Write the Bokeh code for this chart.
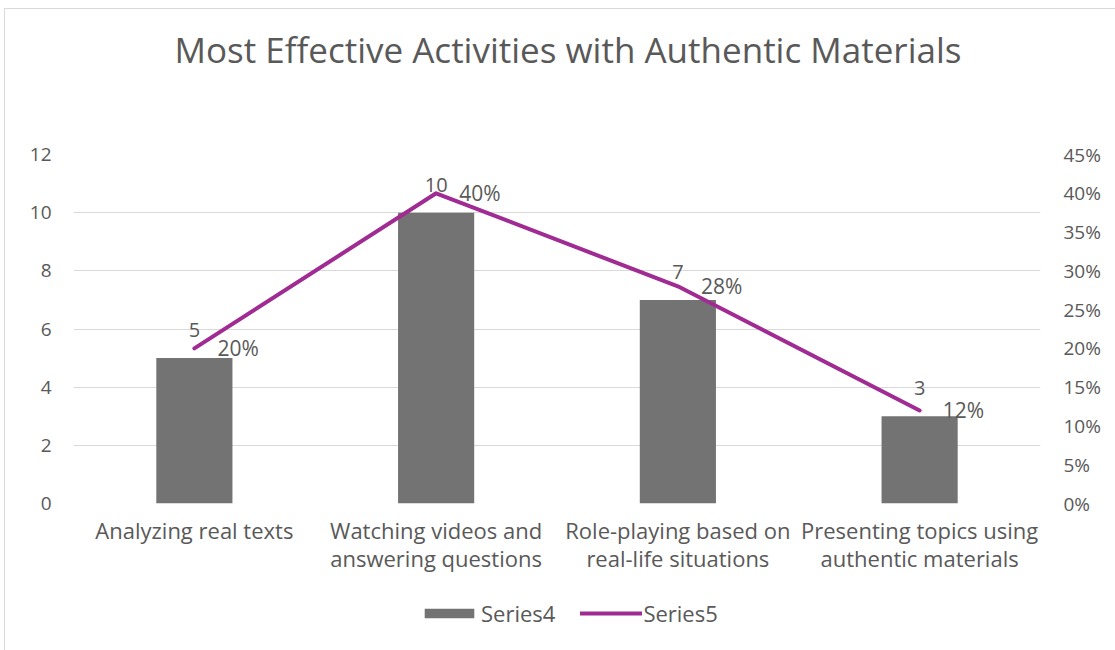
from bokeh.plotting import figure
from bokeh.models import (Range1d, LinearAxis, FixedTicker, NumeralTickFormatter,
                          ColumnDataSource, Legend, LegendItem, FactorRange, Title)
from bokeh.layouts import column
from bokeh.core.properties import value
from bokeh.embed import file_html
from bokeh.resources import INLINE

categories = ["Analyzing real texts",
              "Watching videos and\nanswering questions",
              "Role-playing based on\nreal-life situations",
              "Presenting topics using\nauthentic materials"]
series4 = [5, 10, 7, 3]
series5 = [0.20, 0.40, 0.28, 0.12]
left_ticks = [0, 2, 4, 6, 8, 10, 12]
right_ticks = [0, 0.05, 0.10, 0.15, 0.20, 0.25, 0.30, 0.35, 0.40, 0.45]
series_names = ["Series4", "Series5"]

FONT = "Open Sans"
TXT = "#595959"
BAR = "#737373"
LINE = "#A02B93"

src = ColumnDataSource(dict(
    cat=categories, s4=series4, s5=series5,
    s4lab=[str(v) for v in series4],
    s5lab=[f"{round(v*100)}%" for v in series5],
))

p = figure(width=1111, height=145 + 349 + 90, x_range=FactorRange(*categories),
           y_range=Range1d(0, 12), output_backend="svg", toolbar_location=None,
           min_border_left=68, min_border_right=76, min_border_top=145,
           min_border_bottom=90)
p.outline_line_color = None
p.background_fill_color = "white"
p.border_fill_color = "white"

p.extra_y_ranges = {"pct": Range1d(0, 0.45)}

# spacer between frame and title (nearest to the frame)
spacer = Title(text=" ", text_font_size="1px", standoff=79)
p.add_layout(spacer, "above")
t = Title(text="Most Effective Activities with Authentic Materials", align="left",
          text_font=FONT, text_font_size="35px", text_font_style="normal",
          text_color=TXT, offset=101, standoff=0, vertical_align="bottom")
p.add_layout(t, "above")

ax = p.yaxis[0]
ax.ticker = FixedTicker(ticks=left_ticks)
ax.axis_line_color = None
ax.major_tick_line_color = None
ax.minor_tick_line_color = None
ax.major_label_text_font = FONT
ax.major_label_text_font_size = "19px"
ax.major_label_text_color = TXT
ax.major_label_standoff = 16

rax = LinearAxis(y_range_name="pct", ticker=FixedTicker(ticks=right_ticks),
                 formatter=NumeralTickFormatter(format="0%"))
rax.axis_line_color = None
rax.major_tick_line_color = None
rax.minor_tick_line_color = None
rax.major_label_text_font = FONT
rax.major_label_text_font_size = "19px"
rax.major_label_text_color = TXT
rax.major_label_standoff = 17
p.add_layout(rax, "right")

xa = p.xaxis[0]
xa.axis_line_color = None
xa.major_tick_line_color = None
xa.minor_tick_line_color = None
xa.major_label_text_font = FONT
xa.major_label_text_font_size = "22px"
xa.major_label_text_line_height = 0.95
xa.major_label_text_color = TXT
xa.major_label_standoff = 5

p.xgrid.grid_line_color = None
p.ygrid.grid_line_color = "#D9D9D9"
p.ygrid.grid_line_width = 1

p.x_range.range_padding = 0

p.vbar(x="cat", top="s4", width=0.315, source=src, fill_color=BAR, line_color=None)
p.line(x="cat", y="s5", source=src, y_range_name="pct", line_color=LINE,
       line_width=4, line_cap="round", line_join="round")

p.text(x="cat", y="s4", text="s4lab", source=src, y_offset=-28,
       text_align="center", text_baseline="middle", text_font=value(FONT),
       text_font_size="20px", text_color=TXT)
p.text(x="cat", y="s5", text="s5lab", source=src, y_range_name="pct", x_offset=23,
       text_align="left", text_baseline="middle", text_font=value(FONT),
       text_font_size="21px", text_color=TXT)

# legend strip below the chart (its frame is aligned with the chart's frame)
lp = figure(width=1111, height=58, x_range=Range1d(0, 1), y_range=Range1d(0, 1),
            x_axis_type=None, y_axis_type=None, output_backend="svg",
            toolbar_location=None, min_border=0)
lp.outline_line_color = None
lp.grid.visible = False
lp.background_fill_color = "white"
lp.border_fill_color = "white"
# proxy renderers placed outside the visible range, used only for legend swatches
proxy = ColumnDataSource(dict(x=[-10, -9], y=[-10, -9], top=[-10, -9]))
lbar = lp.vbar(x="x", top="top", width=0.1, source=proxy, fill_color=BAR, line_color=None)
lline = lp.line(x="x", y="y", source=proxy, line_color=LINE, line_width=4, line_cap="round")

legend = Legend(items=[LegendItem(label=series_names[0], renderers=[lbar]),
                       LegendItem(label=series_names[1], renderers=[lline])],
                orientation="horizontal", location=(345, 23),
                label_text_font=FONT, label_text_font_size="22px",
                label_text_color=TXT, glyph_width=62, glyph_height=12,
                label_standoff=1, spacing=25, padding=0, margin=0,
                border_line_alpha=0, background_fill_alpha=0)
lp.add_layout(legend, "center")

layout = column(p, lp, spacing=0)
layout.margin = (8, 0, 0, 4)
layout.styles = {"border-left": "1px solid #d9d9d9", "border-top": "1px solid #d9d9d9"}

open("out.html", "w").write(file_html(layout, INLINE))
